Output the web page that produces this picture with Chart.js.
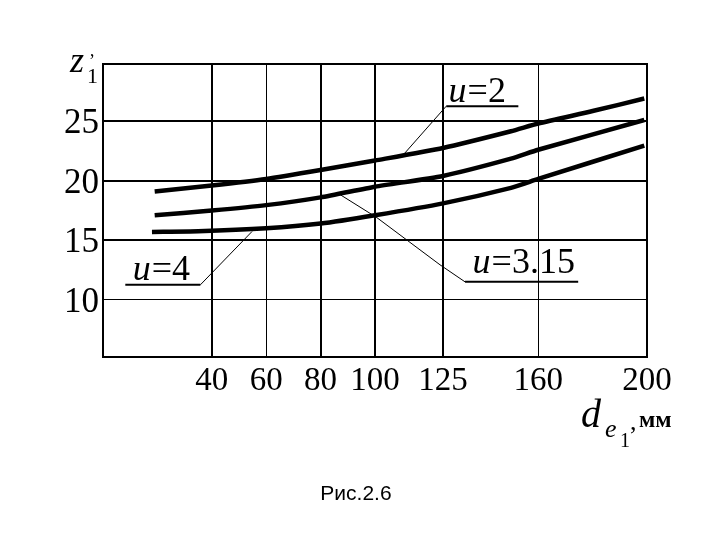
<!DOCTYPE html>
<html>
<head>
<meta charset="utf-8">
<script src="https://cdn.jsdelivr.net/npm/chart.js@4"></script>
<style>
    body { margin: 0; background: #fff; }
    canvas { display: block; }
</style>
</head>
<body>
<canvas id="chart" width="720" height="540"></canvas>
<script>
// tick labels
const xTicks = [40, 60, 80, 100, 125, 160, 200];
const yTicks = [10, 15, 20, 25];

// curves (d_e1, z'1)
const xU2 = [19, 40, 60, 80, 100, 125, 150, 160, 180, 199];
const yU2 = [19.1, 19.6, 20.15, 20.9, 21.7, 22.75, 24.15, 24.8, 25.85, 26.9];

const xU315 = [19, 40, 60, 80, 100, 125, 150, 160, 199];
const yU315 = [17.1, 17.5, 17.95, 18.6, 19.5, 20.4, 21.85, 22.6, 25.1];

const xU4 = [18, 35, 60, 80, 100, 125, 150, 160, 199];
const yU4 = [15.7, 15.75, 16.0, 16.4, 17.1, 18.1, 19.4, 20.15, 22.95];

// callout labels: text, leader points (data units), underline end, text anchor
const calloutNames = ['2', '3.15', '4'];
const calloutLeaders = [
    [[110.5, 22.2], [126.2, 26.26]],
    [[87.2, 18.83], [100.7, 16.9], [123.9, 12.94], [133.1, 11.51]],
    [[54.8, 15.74], [35.8, 11.26]]
];
const calloutUnderlineEnd = [152.7, 174.7, 8.2];
const calloutText = [[137.4, 26.57], [154.5, 12.27], [21.25, 11.68]];

const toPoints = (xs, ys) => xs.map((v, i) => ({ x: v, y: ys[i] }));

function curve(label, xs, ys) {
    return {
        label,
        data: toPoints(xs, ys),
        borderColor: '#000',
        borderWidth: 4.5,
        pointRadius: 0,
        tension: 0.2,
        fill: false
    };
}

const serif = '"Liberation Serif", "Times New Roman", serif';

const drawExtras = {
    id: 'drawExtras',
    afterDraw(chart) {
        const { ctx, chartArea: a, scales: { x, y } } = chart;
        ctx.save();

        // frame
        ctx.strokeStyle = '#000';
        ctx.lineWidth = 2;
        ctx.strokeRect(a.left, a.top, a.right - a.left, a.bottom - a.top);

        // callouts
        ctx.fillStyle = '#000';
        calloutNames.forEach((name, i) => {
            const pts = calloutLeaders[i];
            ctx.lineWidth = 1;
            ctx.beginPath();
            pts.forEach((p, j) => {
                const px = x.getPixelForValue(p[0]);
                const py = y.getPixelForValue(p[1]);
                if (j === 0) ctx.moveTo(px, py); else ctx.lineTo(px, py);
            });
            ctx.stroke();

            const last = pts[pts.length - 1];
            ctx.lineWidth = 2;
            ctx.beginPath();
            ctx.moveTo(x.getPixelForValue(last[0]), y.getPixelForValue(last[1]));
            ctx.lineTo(x.getPixelForValue(calloutUnderlineEnd[i]), y.getPixelForValue(last[1]));
            ctx.stroke();

            const cx = x.getPixelForValue(calloutText[i][0]);
            const by = y.getPixelForValue(calloutText[i][1]);
            const italic = 'italic 36px ' + serif;
            const upright = '36px ' + serif;
            ctx.font = italic;
            const wU = ctx.measureText('u').width;
            ctx.font = upright;
            const rest = '=' + name;
            const wR = ctx.measureText(rest).width;
            const sx = cx - (wU + wR) / 2;
            ctx.textBaseline = 'alphabetic';
            ctx.textAlign = 'left';
            ctx.font = italic;
            ctx.fillText('u', sx, by);
            ctx.font = upright;
            ctx.fillText(rest, sx + wU + 1, by);
        });

        // y axis title z'1
        ctx.textAlign = 'left';
        ctx.font = 'italic 36px ' + serif;
        ctx.fillText('z', a.left - 33, a.top + 8);
        ctx.font = '22px ' + serif;
        ctx.fillText('1', a.left - 16, a.top + 19);
        ctx.font = '18px ' + serif;
        ctx.fillText('\u2019', a.left - 14, a.top + 3);

        // x axis title d_e1, мм
        const bx = a.right - 66;
        const bb = a.bottom + 70;
        ctx.font = 'italic 40px ' + serif;
        ctx.fillText('d', bx, bb);
        ctx.font = 'italic 26px ' + serif;
        ctx.fillText('e', bx + 24, bb + 10);
        ctx.font = '20px ' + serif;
        ctx.fillText('1', bx + 39, bb + 20);
        ctx.font = '26px ' + serif;
        ctx.fillText(',', bx + 49, bb + 3);
        ctx.font = 'bold 24px ' + serif;
        ctx.fillText('мм', bx + 58, bb);

        // caption
        ctx.textAlign = 'center';
        ctx.font = '21px "Liberation Sans", Arial, sans-serif';
        ctx.fillText('Рис.2.6', 356, 500);

        ctx.restore();
    }
};

new Chart(document.getElementById('chart'), {
    type: 'line',
    data: {
        datasets: [
            curve('u=2', xU2, yU2),
            curve('u=3.15', xU315, yU315),
            curve('u=4', xU4, yU4)
        ]
    },
    options: {
        responsive: false,
        animation: false,
        devicePixelRatio: 1,
        layout: { padding: { left: 0, right: 73, top: 64, bottom: 123 } },
        plugins: { legend: { display: false }, tooltip: { enabled: false } },
        scales: {
            x: {
                type: 'linear',
                min: 0,
                max: 200,
                afterBuildTicks: s => { s.ticks = xTicks.map(v => ({ value: v })); },
                afterFit: s => { s.height = 60; },
                grid: {
                    color: '#000',
                    lineWidth: c => (c.tick && (c.tick.value === 60 || c.tick.value === 160)) ? 1 : 2,
                    drawTicks: false
                },
                border: { display: true, color: '#000', width: 2 },
                ticks: {
                    color: '#000',
                    font: { family: serif, size: 33 },
                    padding: 5,
                    maxRotation: 0,
                    autoSkip: false
                }
            },
            y: {
                min: 5.2,
                max: 29.8,
                afterBuildTicks: s => { s.ticks = yTicks.map(v => ({ value: v })); },
                afterFit: s => { s.width = 103; },
                grid: {
                    color: '#000',
                    lineWidth: c => (c.tick && c.tick.value === 10) ? 1 : 2,
                    drawTicks: false
                },
                border: { display: true, color: '#000', width: 2 },
                ticks: {
                    color: '#000',
                    font: { family: serif, size: 35 },
                    padding: 4,
                    labelOffset: 3,
                    autoSkip: false
                }
            }
        }
    },
    plugins: [drawExtras]
});
</script>
</body>
</html>
